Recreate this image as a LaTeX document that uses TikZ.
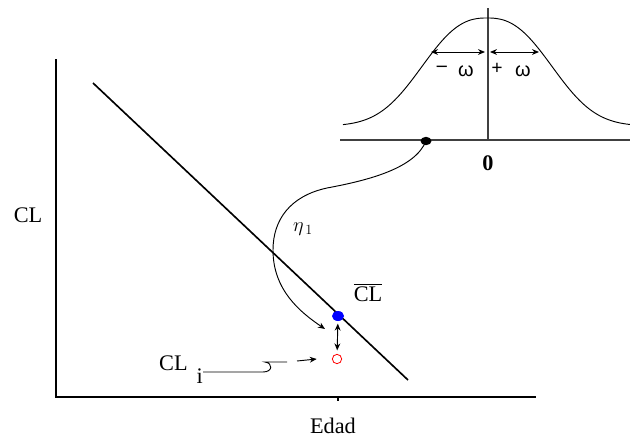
\documentclass[tikz,border=0pt]{standalone}
\usepackage{fontspec}
\setmainfont{Liberation Serif}
\newfontfamily\grkfont{Liberation Sans}
\usetikzlibrary{arrows.meta, shapes.geometric}

\begin{document}
\begin{tikzpicture}[x=0.03cm, y=-0.03cm,
  axis/.style={line width=1.7pt},
  inset/.style={line width=1pt, black!75},
  fine/.style={line width=0.8pt},
  tip/.style={-{Stealth[length=6pt,width=5pt]}},
  twotip/.style={{Stealth[length=6pt,width=5pt]}-{Stealth[length=6pt,width=5pt]}},
  lab/.style={font=\fontsize{19}{22}\selectfont, inner sep=0pt},
  small/.style={font=\fontsize{17}{20}\selectfont, inner sep=0pt}]

\useasboundingbox (0,0) rectangle (630,439);

% Axes
\draw[axis] (56,59) -- (56,397) -- (536,397);
\draw[line width=1pt] (338,397) -- (338,401);
\node[lab] (ylab) at (28,215) {CL};
\node[lab] (xlab) at (333,426) {Edad};

% Regression line
\draw[line width=1.4pt] (93,83) -- (408,380);

% Mean and observed value
\node[ellipse, fill=blue, minimum width=0.36cm, minimum height=0.3cm, inner sep=0pt] (mean) at (338,316) {};
\node[circle, draw=red, line width=0.7pt, minimum size=0.28cm, inner sep=0pt] (obs) at (337,359) {};
\draw[twotip, fine, shorten <=2pt, shorten >=3pt] (mean) -- (obs);
\node[lab] (meanlab) at (368,295) {$\overline{\mbox{CL}\vphantom{\big|}}$};

% Label CL_i
\node[lab, anchor=base west] (clilab) at (159,370) {CL\hspace{0.4em}\raisebox{-0.62em}{i}};
\coordinate (wig) at (263,372);
\coordinate (pa) at (297,361);
\draw[fine] (clilab.east |- wig) -- (wig) .. controls (273,372) and (273,363) .. (265,362) -- (287,362);
\draw[fine, tip] (pa) -- ([xshift=-13pt]obs.west);

% Inset: distribution
\draw[inset] (340,140) -- (630,140);
\draw[inset] (488,8) -- (488,140);
\draw[fine, domain=343:630, samples=150] plot (\x, {126-108*exp(0-pow(abs(\x-487)/80,2.5))});
\draw[twotip, fine] (431,52) -- (485,52);
\draw[twotip, fine] (490,52) -- (539,52);
\node[small] (mlab) at (442,69) {\textbf{--}};
\node[small] (w1) at (466,71) {\grkfont ω};
\node[small] (plab) at (497,69) {\textbf{+}};
\node[small] (w2) at (523,71) {\grkfont ω};
\node[lab] (zero) at (488,163) {\textbf{0}};

% Link from the distribution
\node[ellipse, fill=black, minimum width=0.33cm, minimum height=0.25cm, inner sep=0pt] (src) at (426,141) {};
\coordinate (etatip) at (325,329);
\draw[fine, tip] (src.center) .. controls (415,168) and (370,180) .. (327,188)
  .. controls (290,196) and (273,220) .. (273,250)
  .. controls (273,290) and (300,312) .. (etatip);
\node[small] (eta) at (303,229) {$\eta_{\,1}$};

\end{tikzpicture}
\end{document}
